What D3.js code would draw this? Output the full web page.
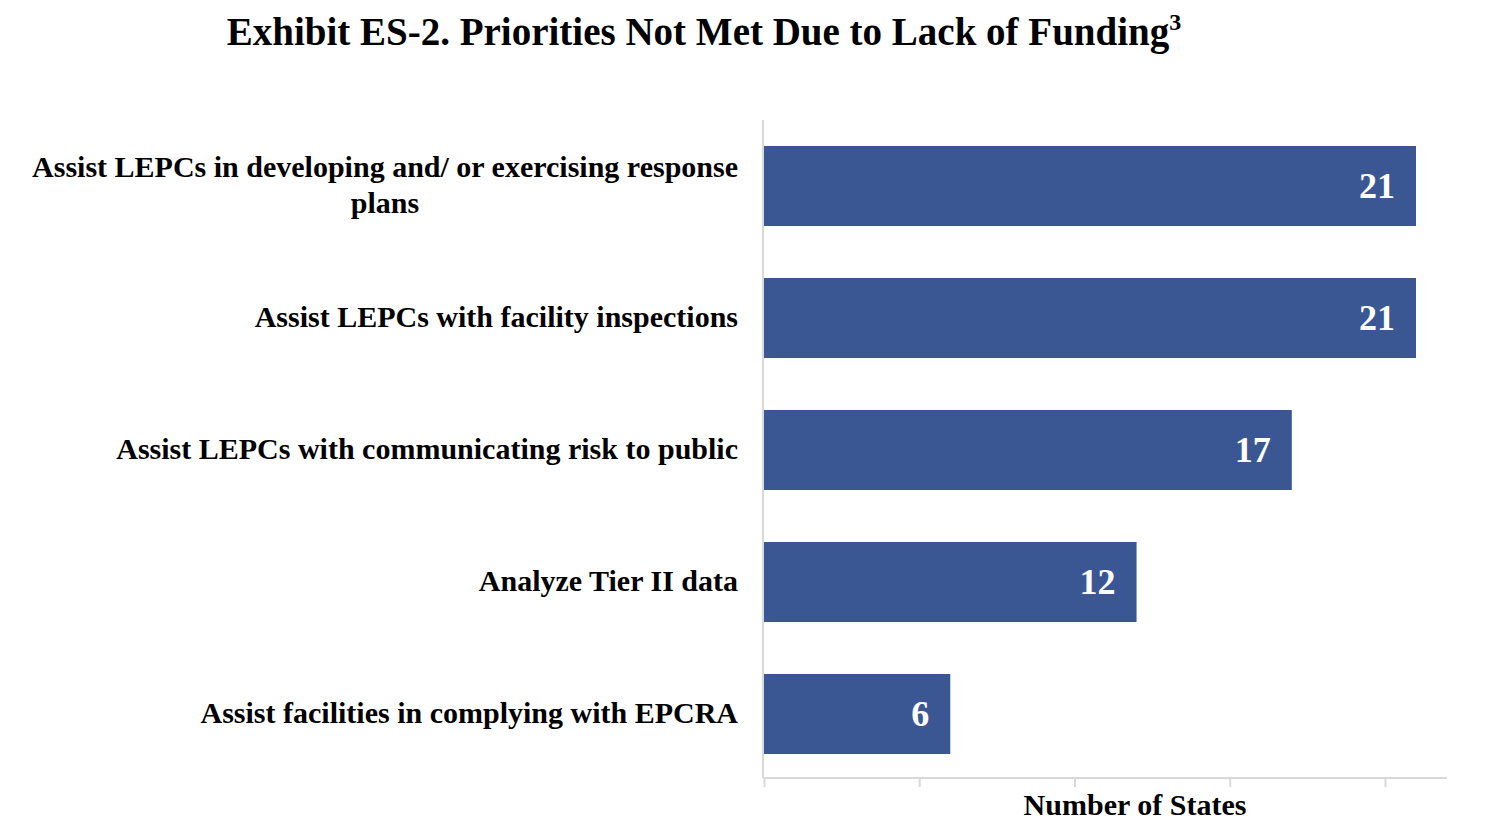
<!DOCTYPE html>
<html>
<head>
<meta charset="utf-8">
<script src="https://cdn.jsdelivr.net/npm/d3@7"></script>
<style>
  html, body { margin: 0; padding: 0; background: #fff; }
  svg { display: block; }
  text { font-family: "Liberation Serif", "Times New Roman", serif; font-weight: bold; }
</style>
</head>
<body>
<svg id="chart" width="1490" height="822"></svg>
<script>
const categories = [
  ["Assist LEPCs in developing and/ or exercising response", "plans"],
  ["Assist LEPCs with facility inspections"],
  ["Assist LEPCs with communicating risk to public"],
  ["Analyze Tier II data"],
  ["Assist facilities in complying with EPCRA"]
];
const values = [21, 21, 17, 12, 6];
const xTicks = [0, 5, 10, 15, 20];
const titleText = "Exhibit ES-2. Priorities Not Met Due to Lack of Funding";
const titleSup = "3";
const xAxisTitle = "Number of States";

(function () {
const svg = d3.select("#chart");
const mLeft = 764, mRight = 1447, mTop = 120, mBottom = 780;
const barColor = "#3a5794";
const axisColor = "#d9d9d9";

const x = d3.scaleLinear().domain([0, 22]).range([mLeft, mLeft + 22 * (1416 - 764) / 21]);
const y = d3.scaleBand().domain(d3.range(categories.length)).range([mTop, mBottom])
  .paddingInner(0.394).paddingOuter(0.197);

// Title
const title = svg.append("text").attr("x", 704).attr("y", 45)
  .attr("text-anchor", "middle").attr("font-size", 39).attr("fill", "#000");
title.append("tspan").text(titleText);
title.append("tspan").text(titleSup).attr("font-size", 24).attr("dy", -15);

// Bars
svg.append("g").selectAll("rect").data(values).join("rect")
  .attr("x", x(0)).attr("y", (d, i) => y(i))
  .attr("width", d => x(d) - x(0)).attr("height", y.bandwidth())
  .attr("fill", barColor);

// Axes
const xAxis = d3.axisBottom(x).tickValues(xTicks).tickSize(9).tickFormat("");
const gx = svg.append("g").attr("transform", `translate(0,${mBottom - 2})`).call(xAxis);
gx.select(".domain").attr("stroke", axisColor).attr("stroke-width", 2)
  .attr("d", `M${mLeft - 1},0H${mRight}`);
gx.selectAll(".tick line").attr("stroke", axisColor).attr("stroke-width", 2);

svg.append("line").attr("x1", mLeft - 1).attr("x2", mLeft - 1)
  .attr("y1", mTop).attr("y2", mBottom - 2)
  .attr("stroke", axisColor).attr("stroke-width", 2);

// Category labels
const labelX = 738;
const fs = 30;
categories.forEach((lines, i) => {
  const cy = y(i) + y.bandwidth() / 2;
  const n = lines.length;
  const lh = 36;
  const g = svg.append("g");
  const t0 = g.append("text").attr("x", labelX).attr("text-anchor", "end")
    .attr("font-size", fs).attr("fill", "#000")
    .attr("y", cy + 9 - (n - 1) * lh / 2).text(lines[0]);
  if (n > 1) {
    const w = t0.node().getComputedTextLength();
    const cx = labelX - w / 2;
    for (let k = 1; k < n; k++) {
      g.append("text").attr("x", cx).attr("text-anchor", "middle")
        .attr("font-size", fs).attr("fill", "#000")
        .attr("y", cy + 9 - (n - 1) * lh / 2 + k * lh).text(lines[k]);
    }
  }
});

// Value labels
svg.append("g").selectAll("text").data(values).join("text")
  .attr("x", d => x(d) - 21).attr("y", (d, i) => y(i) + y.bandwidth() / 2 + 12)
  .attr("text-anchor", "end").attr("font-size", 36).attr("fill", "#fff")
  .text(d => d);

// X axis title
svg.append("text").attr("x", 1135).attr("y", 815).attr("text-anchor", "middle")
  .attr("font-size", 30).attr("fill", "#000").text(xAxisTitle);
})();
</script>
</body>
</html>
